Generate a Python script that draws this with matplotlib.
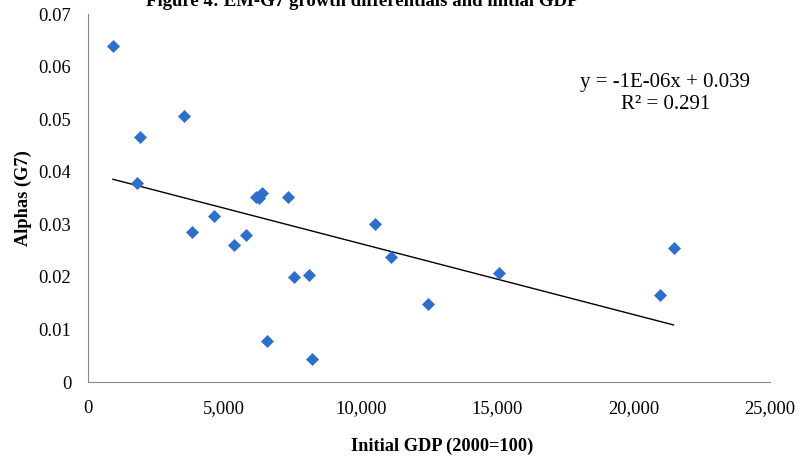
import matplotlib.pyplot as plt
import numpy as np

# Initial GDP (2000=100) and alphas
initial_gdp = [916, 1796, 1916, 3530, 3823, 4619, 5362, 5792, 6171, 6270, 6365,
               7343, 6550, 7540, 8101, 8200, 10531, 11107, 12474, 15078, 20968, 21456]
alphas = [0.0640, 0.0378, 0.0466, 0.0507, 0.0286, 0.0316, 0.0261, 0.0280, 0.0352, 0.0350, 0.0359,
          0.0352, 0.0079, 0.0200, 0.0203, 0.0043, 0.0300, 0.0238, 0.0148, 0.0208, 0.0165, 0.0256]

x_ticks = [0, 5000, 10000, 15000, 20000, 25000]
y_ticks = [0, 0.01, 0.02, 0.03, 0.04, 0.05, 0.06, 0.07]

plt.rcParams['font.family'] = 'Liberation Serif'

fig = plt.figure(figsize=(7.99, 4.57), dpi=100)
ax = fig.add_axes([0.110, 0.164, 0.854, 0.805])

ax.scatter(initial_gdp, alphas, marker='D', s=44, color='#2f6fcc', zorder=3, linewidths=0)

# linear trend line like Excel
x = np.array(initial_gdp)
slope, intercept = np.polyfit(x, alphas, 1)
xs = np.array([x.min(), x.max()])
ax.plot(xs, slope * xs + intercept, color='black', linewidth=1)

ax.text(0.846, 0.785, 'y = -1E-06x + 0.039\nR² = 0.291', transform=ax.transAxes,
        ha='center', va='center', fontsize=15, linespacing=1.25)

ax.set_xlim(0, 25000)
ax.set_ylim(0, 0.07)
ax.set_xticks(x_ticks)
ax.set_xticklabels(['{:,}'.format(v) for v in x_ticks])
ax.set_yticks(y_ticks)
ax.set_yticklabels(['0'] + ['{:.2f}'.format(v) for v in y_ticks[1:]])
ax.tick_params(length=0, labelsize=13.3)
ax.tick_params(axis='x', pad=13)
ax.tick_params(axis='y', pad=12)

for side in ['top', 'right']:
    ax.spines[side].set_visible(False)
for side in ['left', 'bottom']:
    ax.spines[side].set_color('#888888')

ax.set_xlabel('Initial GDP (2000=100)', fontsize=13.2, fontweight='bold')
ax.set_ylabel('Alphas (G7)', fontsize=13.2, fontweight='bold')
ax.xaxis.set_label_coords(0.519, -0.152)
ax.yaxis.set_label_coords(-0.082, 0.50)

fig.text(0.453, 0.997, 'Figure 4: EM-G7 growth differentials and initial GDP',
         ha='center', va='center', fontsize=13.5, fontweight='bold')

plt.savefig('out.png')
